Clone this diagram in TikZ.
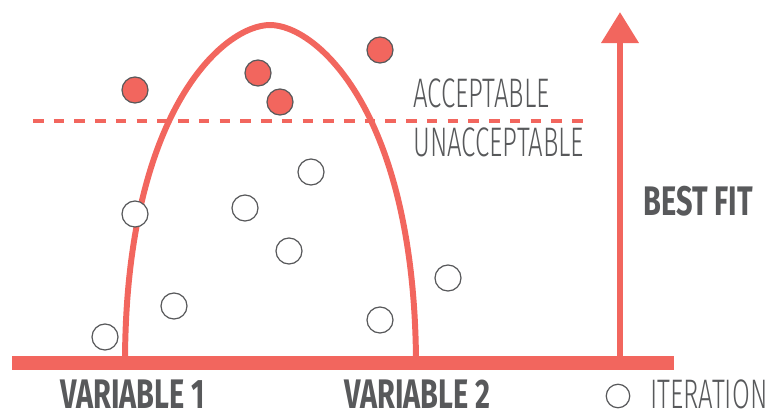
\documentclass[tikz,border=0pt]{standalone}
\usepackage{fontspec}
\usetikzlibrary{arrows.meta}
\newfontfamily\lightfont[FakeStretch=0.625]{Fira Sans Light}
\newfontfamily\boldfont[FakeStretch=0.70]{Fira Sans Bold}
\definecolor{fitred}{RGB}{242,102,94}
\definecolor{txtgray}{RGB}{88,89,91}
\begin{document}
\begin{tikzpicture}[x=0.02cm, y=-0.02cm]
      \tikzstyle{STY1} = [draw=txtgray, circle, fill=white, line width=0.7pt, minimum size=0.52cm, inner sep=0pt]
      \tikzstyle{STY2} = [STY1, fill=fitred]
      \tikzstyle{STY3} = [anchor=base west, inner sep=0pt, text depth=0pt, text=txtgray, font=\fontsize{23.5}{26}\selectfont\lightfont]
      \tikzstyle{STY4} = [STY3, font=\fontsize{23.5}{26}\selectfont\boldfont]
      \tikzstyle{STY5} = [draw=fitred, line width=3.4pt]

      \useasboundingbox (0,0) rectangle (770,414);

      %%%%% AXES
      \coordinate (b0) at (12,363);
      \coordinate (b1) at (674,363);
      \coordinate (f0) at (620,363);
      \coordinate (f1) at (620,12);
      \coordinate (d0) at (33,121);
      \coordinate (d1) at (588,121);

      \draw[draw=fitred, line width=7.9pt] (b0) -- (b1);
      \draw[draw=fitred, line width=3.9pt, -{Triangle[width=0.72cm, length=0.62cm]}] (f0) -- (f1);
      \draw[draw=fitred, line width=2.2pt, dash pattern=on 6pt off 5.8pt] (d0) -- (d1);

      %%%%% CURVE
      \coordinate (c0) at (125,360);
      \coordinate (c1) at (270,25);
      \coordinate (c2) at (416,360);
      \draw[STY5] (c0) .. controls (126,110) and (224,25) .. (c1)
                       .. controls (316,25) and (414,110) .. (c2);

      %%%%% ITERATIONS
      \node[STY2](a1) at (135,90) {};
      \node[STY2](a2) at (258,73) {};
      \node[STY2](a3) at (280,102) {};
      \node[STY2](a4) at (380,50) {};

      \node[STY1](i1) at (105,337) {};
      \node[STY1](i2) at (135,214) {};
      \node[STY1](i3) at (174,306) {};
      \node[STY1](i4) at (245,208) {};
      \node[STY1](i5) at (289,251) {};
      \node[STY1](i6) at (311,172) {};
      \node[STY1](i7) at (380,320) {};
      \node[STY1](i8) at (448,278) {};

      %%%%% LABELS
      \node[STY3](t1) at (413,107) {ACCEPTABLE};
      \node[STY3](t2) at (413,156) {UNACCEPTABLE};
      \node[STY4](t3) at (643,215) {BEST FIT};
      \node[STY4](t4) at (60,408) {VARIABLE 1};
      \node[STY4](t5) at (344,408) {VARIABLE 2};
      \node[STY1, minimum size=0.47cm](i0) at (618,396) {};
      \node[STY3](t6) at (650,408) {ITERATION};
\end{tikzpicture}
\end{document}
